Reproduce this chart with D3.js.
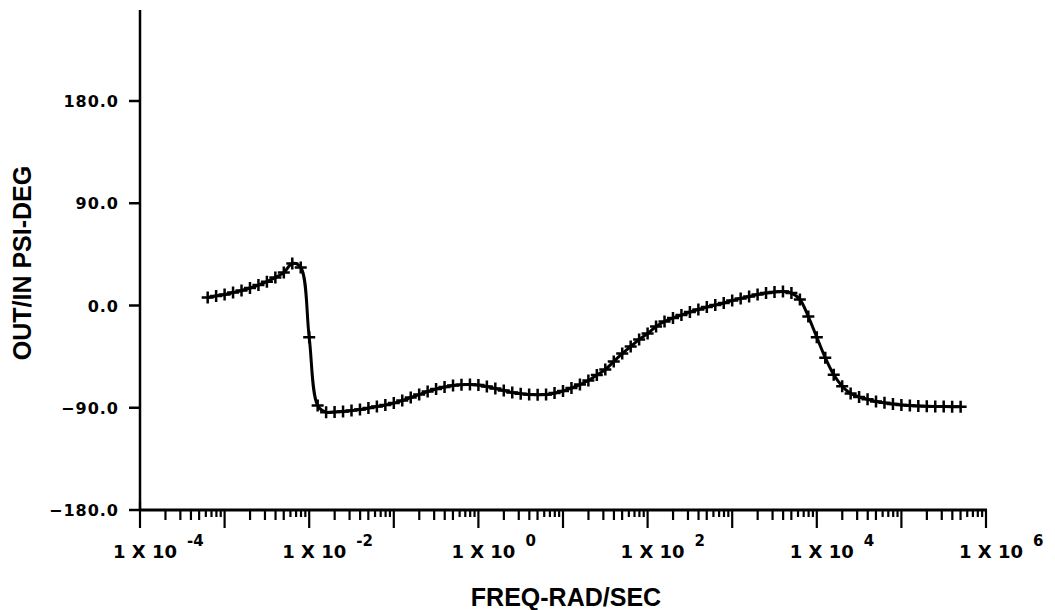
<!DOCTYPE html>
<html>
<head>
<meta charset="utf-8">
<script src="https://cdn.jsdelivr.net/npm/d3@7"></script>
<style>
  body { margin: 0; background: #fff; }
  svg { display: block; }
  .ylab { font-family: "DejaVu Sans", sans-serif; font-weight: bold; font-size: 16px; letter-spacing: 1px; }
  .xlab { font-family: "DejaVu Sans", sans-serif; font-weight: bold; font-size: 18px; }
  .xexp { font-family: "DejaVu Sans", sans-serif; font-weight: bold; font-size: 15px; }
  .title { font-family: "Liberation Sans", Arial, sans-serif; font-weight: bold; font-size: 25px; }
</style>
</head>
<body>
<div id="chart"></div>
<script>
// frequency points (log10 of rad/sec)
var freqExp = [
  -3.2, -3.1, -3.0, -2.9, -2.8, -2.7, -2.6, -2.5, -2.4, -2.3, -2.2, -2.1,
  -2.0, -1.9, -1.8, -1.7, -1.6, -1.5, -1.4, -1.3, -1.2, -1.1,
  -1.0, -0.9, -0.8, -0.7, -0.6, -0.5, -0.4, -0.3, -0.2, -0.1,
  0.0, 0.1, 0.2, 0.3, 0.4, 0.5, 0.6, 0.7, 0.8, 0.9,
  1.0, 1.1, 1.2, 1.3, 1.4, 1.5, 1.6, 1.7, 1.8, 1.9,
  2.0, 2.1, 2.2, 2.3, 2.4, 2.5, 2.6, 2.7, 2.8, 2.9,
  3.0, 3.1, 3.2, 3.3, 3.4, 3.5, 3.6, 3.7, 3.8, 3.9,
  4.0, 4.1, 4.2, 4.3, 4.4, 4.5, 4.6, 4.7, 4.8, 4.9,
  5.0, 5.1, 5.2, 5.3, 5.4, 5.5, 5.6, 5.7
];
// phase out/in, degrees
var phase = [
  7, 8.4, 9.7, 11.4, 13.2, 15.4, 18, 21, 24.7, 29, 37, 33.5,
  -28, -88, -94, -93.8, -93.3, -92.5, -91.6, -90.3, -88.9, -87.6,
  -85.9, -83.7, -81, -78.4, -75.7, -73.5, -71.8, -70.4, -69.7, -69.6,
  -70, -71.3, -73.1, -74.8, -76.6, -77.7, -78.4, -78.5, -78.4, -77,
  -75.3, -72.6, -69.6, -66, -61.2, -56.4, -49.3, -42.3, -36.1, -29.9,
  -24.7, -18.5, -14.1, -11, -8.4, -5.7, -3.5, -1.3, 0.4, 2.2,
  4.4, 6.2, 7.9, 9.7, 11, 11.9, 12.3, 11, 5.3, -9.7,
  -28, -46, -61, -71, -77.5, -80.5, -82.5, -84.5, -85.7, -86.8,
  -87.5, -88, -88.4, -88.7, -88.9, -89, -89.1, -89.2
];
var yTicks = [-180, -90, 0, 90, 180];
var xDecades = [-4, -3, -2, -1, 0, 1, 2, 3, 4, 5, 6];
var xLabelExps = [-4, -2, 0, 2, 4, 6];

var W = 1055, H = 610;

var x = d3.scaleLog().domain([1e-4, 1e6]).range([140, 986]);
var y = d3.scaleLinear().domain([-180, 180]).range([510, 101]);
var yTopPx = 10;

var svg = d3.select("#chart").append("svg")
    .attr("width", W)
    .attr("height", H);

var data = freqExp.map(function(e, i) {
  return { f: Math.pow(10, e), p: phase[i] };
});

// y axis
svg.append("line")
    .attr("x1", x(1e-4)).attr("x2", x(1e-4))
    .attr("y1", y(-180) + 1).attr("y2", yTopPx)
    .attr("stroke", "#000").attr("stroke-width", 2.5);

svg.selectAll(".ytick").data(yTicks).enter().append("line")
    .attr("x1", x(1e-4) - 11).attr("x2", x(1e-4))
    .attr("y1", function(d) { return y(d); })
    .attr("y2", function(d) { return y(d); })
    .attr("stroke", "#000").attr("stroke-width", 2.5);

svg.selectAll(".ylab").data(yTicks).enter().append("text")
    .attr("class", "ylab")
    .attr("x", x(1e-4) - 21)
    .attr("y", function(d) { return y(d) + 6; })
    .attr("text-anchor", "end")
    .text(function(d) { return d3.format(".1f")(d); });

// x axis
svg.append("line")
    .attr("x1", x(1e-4) - 1).attr("x2", x(1e6) + 1)
    .attr("y1", y(-180)).attr("y2", y(-180))
    .attr("stroke", "#000").attr("stroke-width", 3);

var minor = [];
xDecades.slice(0, -1).forEach(function(e) {
  for (var m = 2; m <= 9; m++) minor.push({ v: m * Math.pow(10, e), m: m });
});

svg.selectAll(".xminor").data(minor).enter().append("line")
    .attr("x1", function(d) { return x(d.v); })
    .attr("x2", function(d) { return x(d.v); })
    .attr("y1", y(-180))
    .attr("y2", function(d) { return y(-180) + (d.m <= 5 ? 10 : 7); })
    .attr("stroke", "#000").attr("stroke-width", 2.2);

svg.selectAll(".xmajor").data(xDecades).enter().append("line")
    .attr("x1", function(d) { return x(Math.pow(10, d)); })
    .attr("x2", function(d) { return x(Math.pow(10, d)); })
    .attr("y1", function(d) { return d === -4 ? y(-180) - 8 : y(-180); })
    .attr("y2", y(-180) + 18)
    .attr("stroke", "#000").attr("stroke-width", 2.2);

// x tick labels "1 X 10^n"
xLabelExps.forEach(function(e) {
  var cx = x(Math.pow(10, e)) + 5;
  var t = svg.append("text")
      .attr("class", "xlab")
      .attr("x", cx)
      .attr("y", 558)
      .attr("text-anchor", "middle")
      .text("1 X 10");
  var half = t.node().getComputedTextLength() / 2;
  svg.append("text")
      .attr("class", "xexp")
      .attr("x", cx + half + 10)
      .attr("y", 546)
      .text(e);
});

// axis titles
svg.append("text")
    .attr("class", "title")
    .attr("x", 566)
    .attr("y", 606)
    .attr("text-anchor", "middle")
    .text("FREQ-RAD/SEC");

svg.append("text")
    .attr("class", "title")
    .attr("transform", "translate(31,263) rotate(-90)")
    .attr("text-anchor", "middle")
    .text("OUT/IN PSI-DEG");

// the curve
var line = d3.line()
    .x(function(d) { return x(d.f); })
    .y(function(d) { return y(d.p); })
    .curve(d3.curveCatmullRom);

svg.append("path")
    .datum(data)
    .attr("fill", "none")
    .attr("stroke", "#000")
    .attr("stroke-width", 3)
    .attr("d", line);

// plus markers
svg.selectAll(".pt").data(data).enter().append("path")
    .attr("transform", function(d) { return "translate(" + x(d.f) + "," + y(d.p) + ")"; })
    .attr("d", "M-6,0H6M0,-6V6")
    .attr("stroke", "#000")
    .attr("stroke-width", 2.5);
</script>
</body>
</html>
